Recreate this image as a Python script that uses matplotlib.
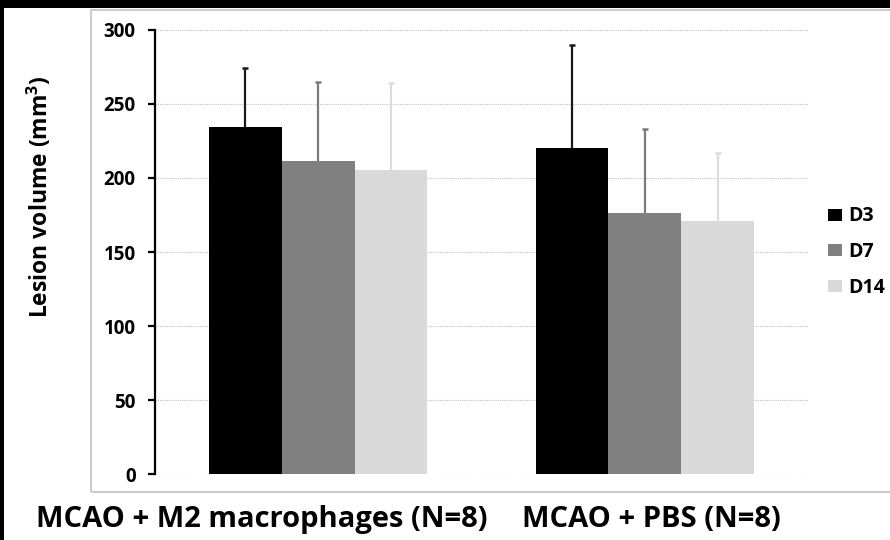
import matplotlib
matplotlib.use("Agg")
import matplotlib.pyplot as plt
from matplotlib.patches import Rectangle, Patch
from matplotlib.transforms import ScaledTranslation
import numpy as np

categories = ["MCAO + M2 macrophages (N=8)", "MCAO + PBS (N=8)"]
series = ["D3", "D7", "D14"]
d3 = [234.5, 220.0]
d7 = [211.5, 176.5]
d14 = [205.5, 171.0]
d3_err = [40.0, 70.0]
d7_err = [53.5, 56.5]
d14_err = [58.5, 46.0]
yticks = [0, 50, 100, 150, 200, 250, 300]

colors = ["#000000", "#808080", "#d9d9d9"]
err_colors = ["#1a1a1a", "#7a7a7a", "#dcdcdc"]

plt.rcParams['font.family'] = ['Open Sans', 'DejaVu Sans']
plt.rcParams['mathtext.fontset'] = 'custom'
plt.rcParams['mathtext.rm'] = 'Open Sans:bold'
plt.rcParams['mathtext.bf'] = 'Open Sans:bold'
plt.rcParams['mathtext.default'] = 'rm'

W, H = 890, 540
fig = plt.figure(figsize=(W / 100, H / 100), dpi=100, facecolor="black")

# white panel
fig.patches.append(Rectangle((4 / W, 0), 1.0, (H - 8) / H, transform=fig.transFigure,
                             facecolor="white", edgecolor="none", zorder=0))
# light grey chart-area border
fig.patches.append(Rectangle((91 / W, (H - 492) / H), 1.0, (492 - 10) / H,
                             transform=fig.transFigure, facecolor="none",
                             edgecolor="#cccccc", lw=1.5, zorder=1))

ax = fig.add_axes([155 / W, (H - 474) / H, (808 - 155) / W, (474 - 30) / H])
ax.set_facecolor("none")
ax.set_zorder(5)

x = np.arange(len(categories))
bw = 0.223
vals = [d3, d7, d14]
errs = [d3_err, d7_err, d14_err]
for i, (v, e, c, ec, name) in enumerate(zip(vals, errs, colors, err_colors, series)):
    pos = x + (i - 1) * bw
    v = np.asarray(v)
    e = np.asarray(e)
    ax.bar(pos, v, width=bw, color=c, edgecolor="none", label=name, zorder=2)
    ax.errorbar(pos, v, yerr=[np.zeros(len(e)), e], fmt="none", ecolor=ec,
                elinewidth=1.6, capsize=0, zorder=3)
    ax.plot(pos, v + e, linestyle="none", marker="_", markersize=4.5,
            markeredgewidth=1.8, color=ec, zorder=3)

ax.set_xlim(-0.5, 1.5)
ax.set_ylim(0, 300)
ax.set_yticks(yticks)
ax.set_yticklabels([str(t) for t in yticks], fontsize=13.5, fontweight="bold")
ax.yaxis.grid(True, linestyle=(0, (1, 1)), color="#c4c4c4", lw=0.8, zorder=0)
ax.set_axisbelow(True)
for s in ["top", "right", "bottom"]:
    ax.spines[s].set_visible(False)
ax.spines["left"].set_linewidth(1.6)
ax.tick_params(axis="y", length=5, width=1.6, pad=9)
ax.tick_params(axis="x", length=0, pad=22)
ax.set_xticks(x)
ax.set_xticklabels(categories, fontsize=21, fontweight="bold")
lbls = ax.get_xticklabels()
lbls[0].set_transform(lbls[0].get_transform() + ScaledTranslation(-0.57, 0, fig.dpi_scale_trans))
lbls[1].set_transform(lbls[1].get_transform() + ScaledTranslation(0.07, 0, fig.dpi_scale_trans))

fig.text(40 / W, 1 - 197 / H, "Lesion volume (mm$^{3}$)", rotation=90, ha="center",
         va="center", fontsize=16.5, fontweight="bold")

handles = [Patch(facecolor=c, edgecolor="none") for c in colors]
fig.legend(handles, series, loc="center left", bbox_to_anchor=(828 / W, 1 - 252 / H),
           frameon=False, borderpad=0, borderaxespad=0, handlelength=0.72,
           handleheight=0.57, handletextpad=0.3, labelspacing=0.8,
           prop={"weight": "bold", "size": 14})

fig.savefig("out.png", dpi=100, facecolor=fig.get_facecolor())
